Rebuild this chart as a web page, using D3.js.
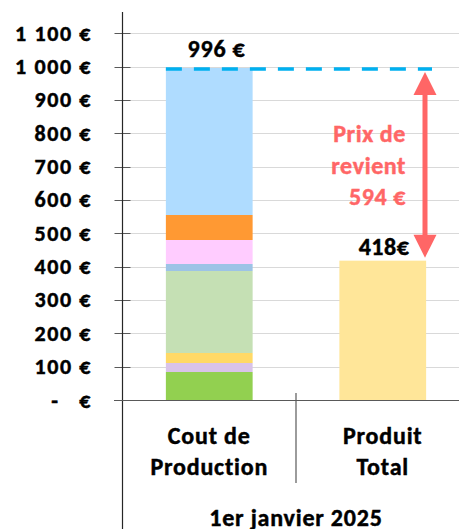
<!DOCTYPE html>
<html>
<head>
<meta charset="utf-8">
<script src="https://cdn.jsdelivr.net/npm/d3@7"></script>
<style>
  body { margin: 0; background: #fff; }
  svg { display: block; font-family: Carlito, Calibri, Lato, sans-serif; font-weight: bold; }
  svg text { stroke: currentColor; stroke-width: 0.45px; }
</style>
</head>
<body>
<svg id="chart"></svg>
<script>
// data
const categories = ['Cout de Production', 'Produit Total'];
const categoryLines = [['Cout de', 'Production'], ['Produit', 'Total']];
const groupLabel = '1er janvier 2025';
const costSegments = [84, 27, 30, 246, 21, 72, 75, 441]; // bottom -> top, sum 996
const produitTotal = 418;
const yTicks = [0, 100, 200, 300, 400, 500, 600, 700, 800, 900, 1000, 1100];
const priceLines = ['Prix de', 'revient', '594 €'];

const segColors = ['#92d050', '#d9c3e9', '#ffd966', '#c5e0b4', '#9dc3e6', '#ffccff', '#ff9933', '#afdcff'];

const width = 459, height = 529;
const axisX = 122.5, plotRight = 469.5, baseY = 400;

const svg = d3.select('#chart')
  .attr('width', width)
  .attr('height', height)
  .attr('viewBox', [0, 0, width, height]);

const x = d3.scaleBand().domain(categories).range([axisX, plotRight]);
const y = d3.scaleLinear().domain([0, 1100]).range([baseY, 33.33]);
const barW = x.bandwidth() * 0.5;

const totalCost = d3.sum(costSegments);
const tops = d3.cumsum(costSegments);

// grid lines
svg.append('g').selectAll('line')
  .data(yTicks.filter(d => d > 0))
  .join('line')
  .attr('x1', axisX).attr('x2', width)
  .attr('y1', d => Math.round(y(d)) + 0.5).attr('y2', d => Math.round(y(d)) + 0.5)
  .attr('stroke', '#d9d9d9').attr('stroke-width', 1);

// y axis ticks and labels
const fmt = v => v === 0 ? '-\u00a0\u00a0\u00a0€' : d3.format(',')(v).replace(/,/g, '\u00a0') + '\u00a0€';
const yAxis = svg.append('g').attr('transform', `translate(${axisX},0)`);
yAxis.selectAll('line.tk')
  .data(yTicks)
  .join('line')
  .attr('class', 'tk')
  .attr('x1', -8).attr('x2', 8)
  .attr('y1', d => Math.round(y(d)) + 0.5).attr('y2', d => Math.round(y(d)) + 0.5)
  .attr('stroke', '#595959');
yAxis.selectAll('text')
  .data(yTicks)
  .join('text')
  .attr('x', -30.5)
  .attr('y', d => y(d) + 7.5)
  .attr('text-anchor', 'end')
  .style('font-size', '22px')
  .style('letter-spacing', '1.6px')
  .text(fmt);

// cost stacked bar
svg.append('g').selectAll('rect')
  .data(costSegments)
  .join('rect')
  .attr('x', x(categories[0]) + (x.bandwidth() - barW) / 2)
  .attr('width', barW)
  .attr('y', (d, i) => y(tops[i]))
  .attr('height', d => y(0) - y(d))
  .attr('fill', (d, i) => segColors[i]);

// produit bar
svg.append('rect')
  .attr('x', x(categories[1]) + (x.bandwidth() - barW) / 2)
  .attr('width', barW)
  .attr('y', y(produitTotal))
  .attr('height', y(0) - y(produitTotal))
  .attr('fill', '#ffe699');

// axes lines
svg.append('line')
  .attr('x1', axisX).attr('x2', axisX)
  .attr('y1', 12).attr('y2', height)
  .attr('stroke', '#262626').attr('stroke-width', 1.2);
svg.append('line')
  .attr('x1', 114).attr('x2', width)
  .attr('y1', baseY + 0.5).attr('y2', baseY + 0.5)
  .attr('stroke', '#595959').attr('stroke-width', 1.2);
svg.append('line')
  .attr('x1', x(categories[1])).attr('x2', x(categories[1]))
  .attr('y1', 393).attr('y2', 483)
  .attr('stroke', '#595959').attr('stroke-width', 1.2);

// dashed total line
svg.append('line')
  .attr('x1', x(categories[0]) + (x.bandwidth() - barW) / 2)
  .attr('x2', 432)
  .attr('y1', y(totalCost) + 1).attr('y2', y(totalCost) + 1)
  .attr('stroke', '#00b0f0')
  .attr('stroke-width', 3.5)
  .attr('stroke-dasharray', '16 12');

// value labels
svg.append('text')
  .attr('x', 216.5)
  .attr('y', 57)
  .attr('text-anchor', 'middle')
  .style('font-size', '24px')
  .style('letter-spacing', '0.8px')
  .text(d3.format('d')(totalCost) + ' €');
svg.append('text')
  .attr('x', 384)
  .attr('y', y(produitTotal) - 6)
  .attr('text-anchor', 'middle')
  .style('font-size', '24px')
  .style('letter-spacing', '0.5px')
  .text(produitTotal + '€');

// double arrow
const arrowX = 425;
const red = '#ff6666';
svg.append('line')
  .attr('x1', arrowX).attr('x2', arrowX)
  .attr('y1', y(totalCost) + 20).attr('y2', y(produitTotal) - 20)
  .attr('stroke', red).attr('stroke-width', 5);
svg.append('path')
  .attr('d', `M${arrowX},${y(totalCost) + 4} l-11.5,23 h23 Z`)
  .attr('fill', red);
svg.append('path')
  .attr('d', `M${arrowX},${y(produitTotal) - 3} l-11.5,-23 h23 Z`)
  .attr('fill', red);

svg.append('g').selectAll('text')
  .data(priceLines)
  .join('text')
  .attr('x', 406)
  .attr('y', (d, i) => 142 + i * 31.7)
  .attr('text-anchor', 'end')
  .attr('fill', red)
  .style('color', red)
  .style('font-size', '24px')
  .style('letter-spacing', '0.6px')
  .text(d => d);

// category labels
categoryLines.forEach((lines, k) => {
  svg.append('g').selectAll('text')
    .data(lines)
    .join('text')
    .attr('x', x(categories[k]) + x.bandwidth() / 2)
    .attr('y', (d, i) => 443.5 + i * 31.5)
    .attr('text-anchor', 'middle')
    .style('font-size', '24px')
    .style('letter-spacing', '0.8px')
    .text(d => d);
});

svg.append('text')
  .attr('x', 296)
  .attr('y', 525.5)
  .attr('text-anchor', 'middle')
  .style('font-size', '24px')
  .style('letter-spacing', '0.8px')
  .text(groupLabel);
</script>
</body>
</html>
